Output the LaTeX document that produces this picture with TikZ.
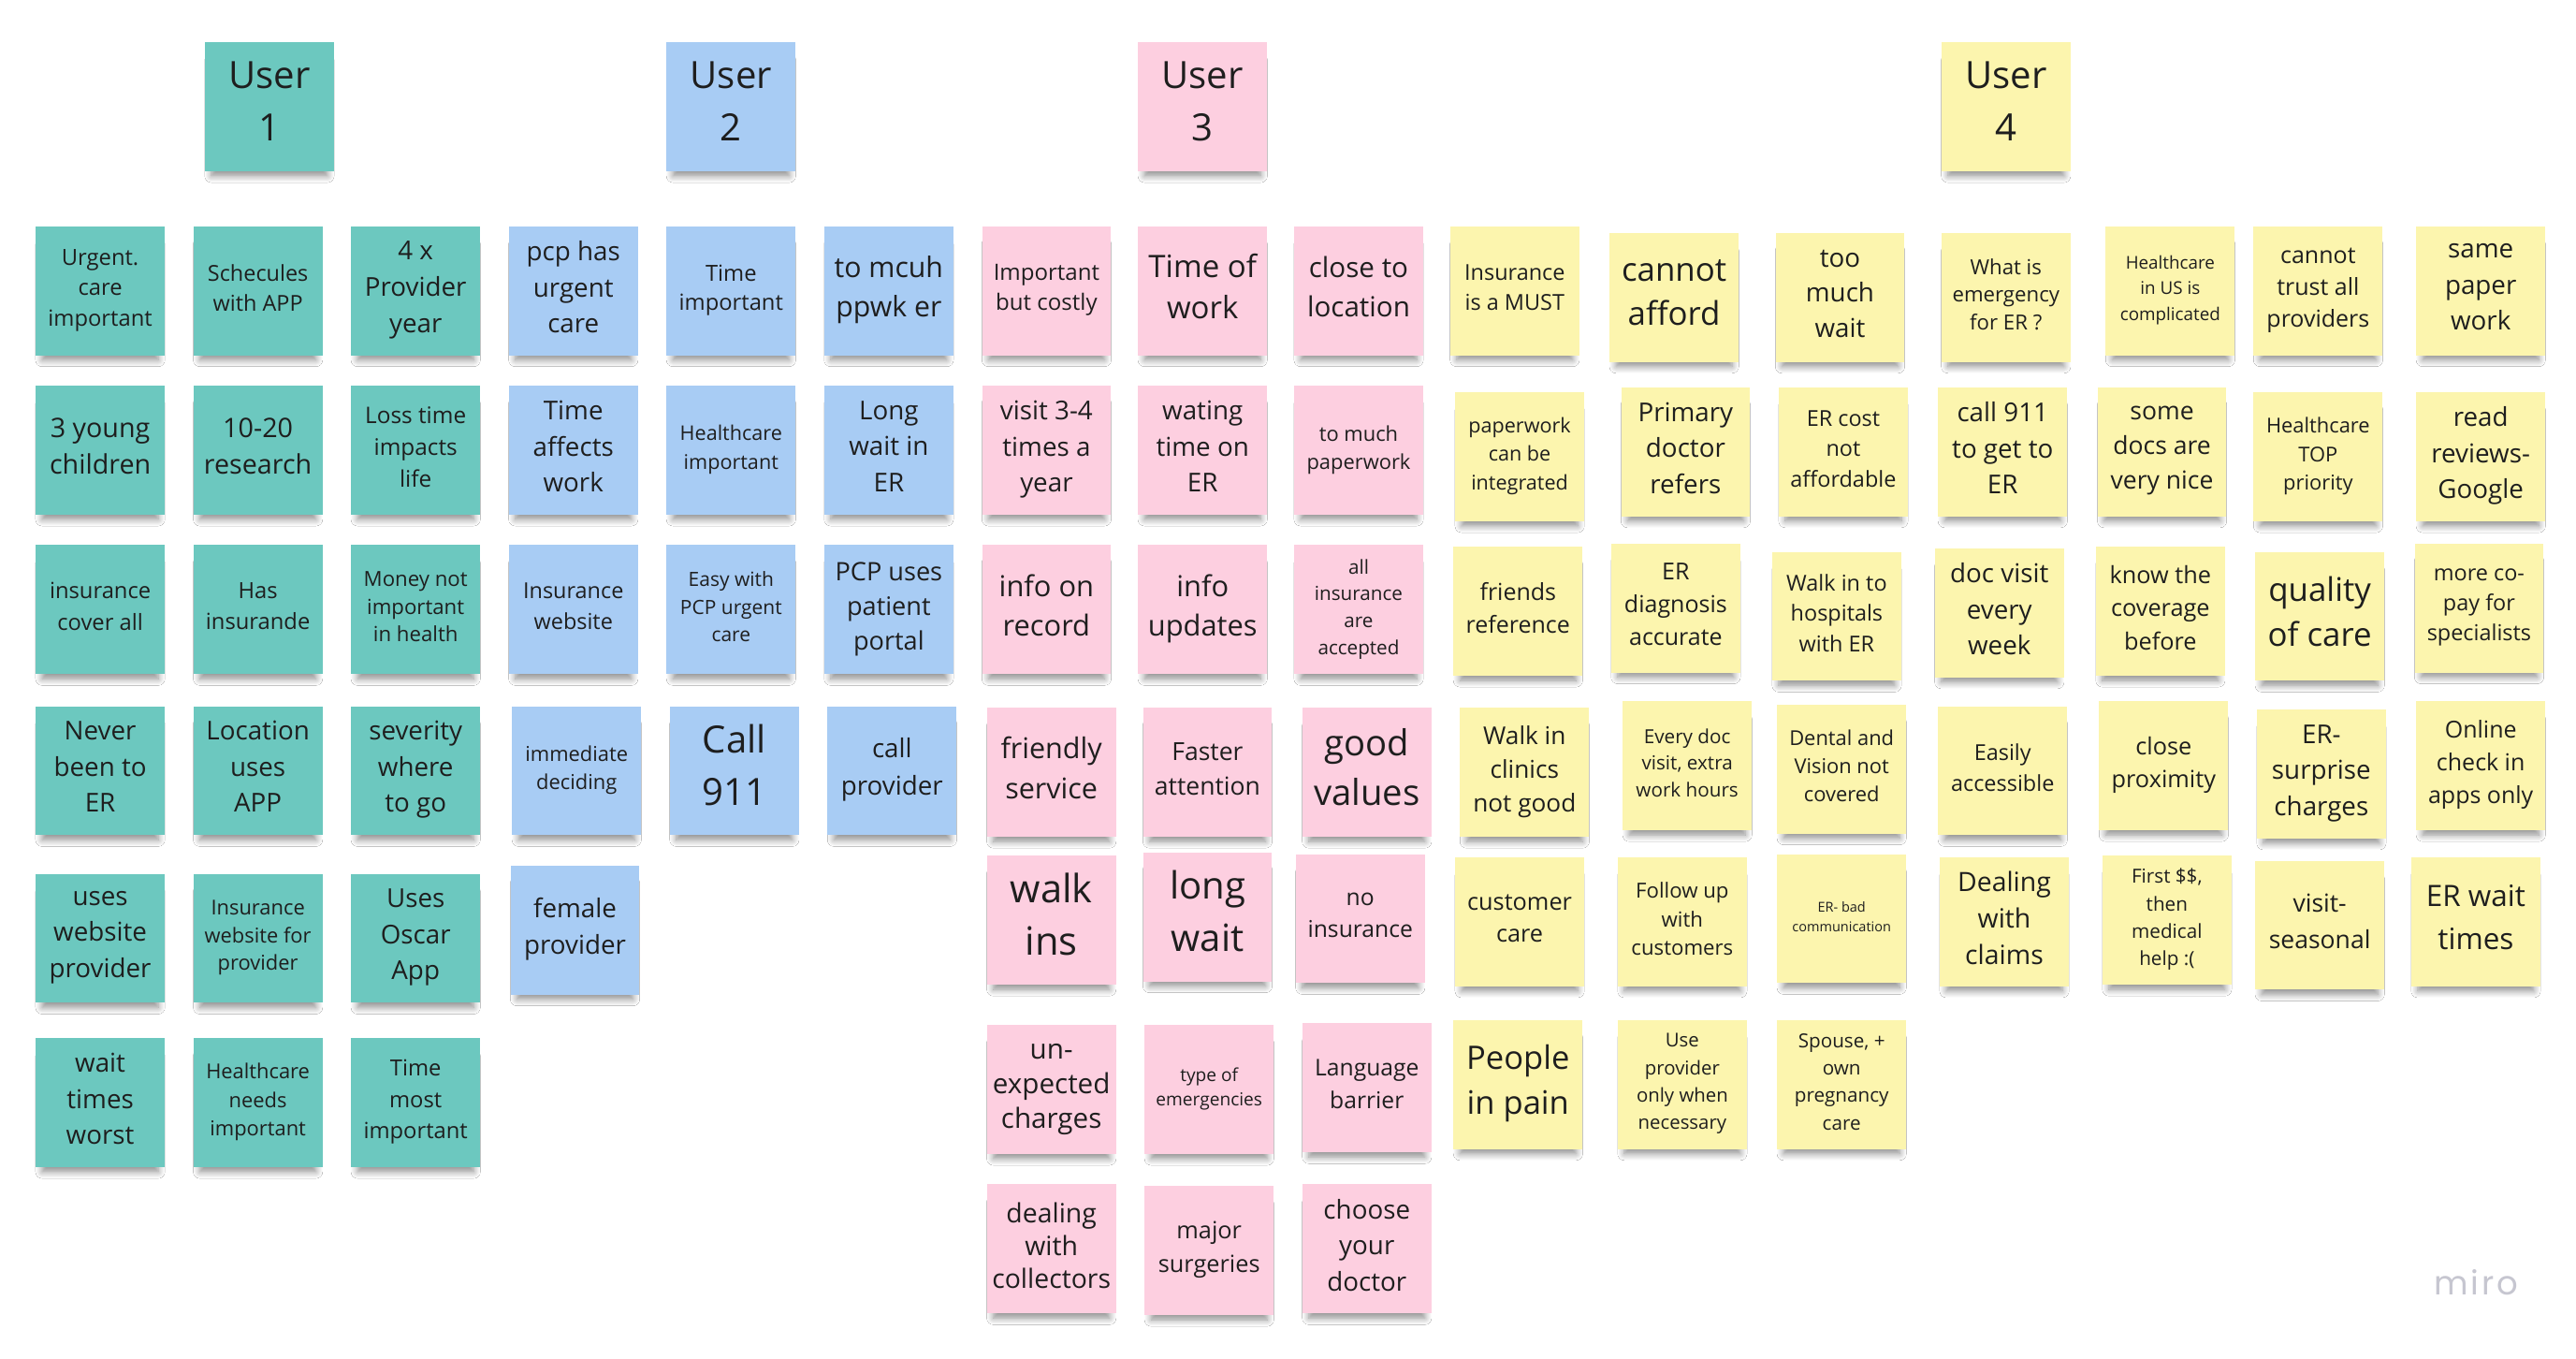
\documentclass[tikz,border=0pt]{standalone}
\usepackage{fontspec}
\setmainfont{Open Sans}
\newfontfamily\logofont[LetterSpace=8]{Poppins}
\usetikzlibrary{shadows.blur}
\definecolor{teal1}{HTML}{6CC8BF}
\definecolor{blue1}{HTML}{A8CCF4}
\definecolor{pink1}{HTML}{FDCFE0}
\definecolor{yel1}{HTML}{FCF5AE}
\definecolor{ink}{HTML}{1E1E1E}
\definecolor{logo}{HTML}{C6C6D0}
\newcommand\notestrut{\rule[-0.22\baselineskip]{0pt}{0.78\baselineskip}}
\tikzset{
  note/.style={rectangle, fill=#1, minimum width=1.57cm, minimum height=1.57cm,
    inner sep=0pt, align=center, text=ink,
    execute at begin node=\notestrut, execute at end node=\notestrut,
    blur shadow={shadow xshift=0pt, shadow yshift=-0.15cm, shadow scale=0.9,
      shadow blur radius=0.09cm, shadow opacity=45, shadow blur steps=8}},
  fs/.style 2 args={font=\fontsize{#1}{#2}\selectfont},
  tn/.style={note=teal1},
  bn/.style={note=blue1},
  pn/.style={note=pink1},
  yn/.style={note=yel1},
}
\begin{document}
\begin{tikzpicture}[x=0.02cm, y=-0.02cm]
\useasboundingbox[fill=white] (0,0) rectangle (1568,827);
% headers
\node[tn, fs={13}{18}] (u1) at (164,65) {User\\1};
\node[bn, fs={13}{18}] (u2) at (445,65) {User\\2};
\node[pn, fs={13}{18}] (u3) at (732,65) {User\\3};
\node[yn, fs={13}{18}] (u4) at (1221,65) {User\\4};
% teal
\node[tn, fs={7.7}{10.5}] (t11) at (61,177) {Urgent.\\care\\important};
\node[tn, fs={7.6}{10.3}] (t12) at (157,177) {Schecules\\with APP};
\node[tn, fs={9}{12.5}] (t13) at (253,177) {4 x\\Provider\\year};
\node[tn, fs={9.3}{12.5}] (t21) at (61,274) {3 young\\children};
\node[tn, fs={9.3}{12.5}] (t22) at (157,274) {10-20\\research};
\node[tn, fs={7.9}{11}] (t23) at (253,274) {Loss time\\impacts\\life};
\node[tn, fs={7.7}{10.8}] (t31) at (61,371) {insurance\\cover all};
\node[tn, fs={7.7}{10.8}] (t32) at (157,371) {Has\\insurande};
\node[tn, fs={7.2}{9.7}] (t33) at (253,371) {Money not\\important\\in health};
\node[tn, fs={9}{12.5}] (t41) at (61,469) {Never\\been to\\ER};
\node[tn, fs={9}{12.5}] (t42) at (157,469) {Location\\uses\\APP};
\node[tn, fs={9}{12.5}] (t43) at (253,469) {severity\\where\\to go};
\node[tn, fs={9}{12.5}] (t51) at (61,571) {uses\\website\\provider};
\node[tn, fs={7.1}{9.5}] (t52) at (157,571) {Insurance\\website for\\provider};
\node[tn, fs={9}{12.5}] (t53) at (253,571) {Uses\\Oscar\\App};
\node[tn, fs={9}{12.5}] (t61) at (61,671) {wait\\times\\worst};
\node[tn, fs={7.1}{10}] (t62) at (157,671) {Healthcare\\needs\\important};
\node[tn, fs={7.7}{10.8}] (t63) at (253,671) {Time\\most\\important};
% blue
\node[bn, fs={9}{12.5}] (b11) at (349,177) {pcp has\\urgent\\care};
\node[bn, fs={7.7}{10.3}] (b12) at (445,177) {Time\\important};
\node[bn, fs={9.8}{13.6}] (b13) at (541,177) {to mcuh\\ppwk er};
\node[bn, fs={9}{12.5}] (b21) at (349,274) {Time\\affects\\work};
\node[bn, fs={7}{10.2}] (b22) at (445,274) {Healthcare\\important};
\node[bn, fs={9}{12.5}] (b23) at (541,274) {Long\\wait in\\ER};
\node[bn, fs={7.6}{10.8}] (b31) at (349,371) {Insurance\\website};
\node[bn, fs={6.8}{9.6}] (b32) at (445,371) {Easy with\\PCP urgent\\care};
\node[bn, fs={8.8}{12}] (b33) at (541,371) {PCP uses\\patient\\portal};
\node[bn, fs={7.1}{9.7}] (b41) at (351,469) {immediate\\deciding};
\node[bn, fs={13}{18}] (b42) at (447,469) {Call\\911};
\node[bn, fs={9}{13}] (b43) at (543,469) {call\\provider};
\node[bn, fs={9}{12.5}] (b51) at (350,566) {female\\provider};
% pink
\node[pn, fs={7.8}{10.3}] (p11) at (637,177) {Important\\but costly};
\node[pn, fs={10.7}{14.2}] (p12) at (732,177) {Time of\\work};
\node[pn, fs={9.6}{13.6}] (p13) at (827,177) {close to\\location};
\node[pn, fs={9}{12.5}] (p21) at (637,274) {visit 3-4\\times a\\year};
\node[pn, fs={9}{12.5}] (p22) at (732,274) {wating\\time on\\ER};
\node[pn, fs={7.1}{9.7}] (p23) at (827,274) {to much\\paperwork};
\node[pn, fs={10}{13.6}] (p31) at (637,371) {info on\\record};
\node[pn, fs={10}{13.6}] (p32) at (732,371) {info\\updates};
\node[pn, fs={6.7}{9.3}] (p33) at (827,371) {all\\insurance\\are\\accepted};
\node[pn, fs={9.9}{14.2}] (p41) at (640,470) {friendly\\service};
\node[pn, fs={8.6}{12}] (p42) at (735,470) {Faster\\attention};
\node[pn, fs={12.4}{17}] (p43) at (832,470) {good\\values};
\node[pn, fs={13.5}{18.2}] (p51) at (640,560) {walk\\ins};
\node[pn, fs={13}{18.2}] (p52) at (735,558) {long\\wait};
\node[pn, fs={8}{10.8}] (p53) at (828,559) {no\\insurance};
\node[pn, fs={9.6}{12}] (p61) at (640,663) {un-\\expected\\charges};
\node[pn, fs={6.2}{8.5}] (p62) at (736,663) {type of\\emergencies};
\node[pn, fs={8}{11.4}] (p63) at (832,662) {Language\\barrier};
\node[pn, fs={9.2}{11.4}] (p71) at (640,760) {dealing\\with\\collectors};
\node[pn, fs={8.2}{11.4}] (p72) at (736,761) {major\\surgeries};
\node[pn, fs={9}{12.5}] (p73) at (832,760) {choose\\your\\doctor};
% yellow
\node[yn, fs={7.6}{10.2}] (y11) at (922,177) {Insurance\\is a MUST};
\node[yn, fs={11.3}{15.4}] (y12) at (1019,181) {cannot\\afford};
\node[yn, fs={9}{12.2}] (y13) at (1120,181) {too\\much\\wait};
\node[yn, fs={7.2}{9.7}] (y14) at (1221,181) {What is\\emergency\\for ER ?};
\node[yn, fs={6.1}{8.8}] (y15) at (1321,177) {Healthcare\\in US is\\complicated};
\node[yn, fs={8.1}{11}] (y16) at (1411,177) {cannot\\trust all\\providers};
\node[yn, fs={9}{12.5}] (y17) at (1510,177) {same\\paper\\work};
\node[yn, fs={7}{10}] (y21) at (925,278) {paperwork\\can be\\integrated};
\node[yn, fs={9}{12.5}] (y22) at (1026,275) {Primary\\doctor\\refers};
\node[yn, fs={7.6}{10.5}] (y23) at (1122,275) {ER cost\\not\\affordable};
\node[yn, fs={9}{12.5}] (y24) at (1219,275) {call 911\\to get to\\ER};
\node[yn, fs={8.6}{12}] (y25) at (1316,275) {some\\docs are\\very nice};
\node[yn, fs={7.1}{10}] (y26) at (1411,278) {Healthcare\\TOP\\priority};
\node[yn, fs={9}{12.5}] (y27) at (1510,278) {read\\reviews-\\Google};
\node[yn, fs={8.1}{11.4}] (y31) at (924,372) {friends\\reference};
\node[yn, fs={8.1}{11.4}] (y32) at (1020,370) {ER\\diagnosis\\accurate};
\node[yn, fs={7.6}{10.5}] (y33) at (1118,375) {Walk in to\\hospitals\\with ER};
\node[yn, fs={9}{12.5}] (y34) at (1217,373) {doc visit\\every\\week};
\node[yn, fs={8.2}{11.4}] (y35) at (1315,372) {know the\\coverage\\before};
\node[yn, fs={11.3}{15.4}] (y36) at (1412,375) {quality\\of care};
\node[yn, fs={7.6}{10.5}] (y37) at (1509,370) {more co-\\pay for\\specialists};
\node[yn, fs={8.5}{11.7}] (y41) at (928,470) {Walk in\\clinics\\not good};
\node[yn, fs={6.7}{9.1}] (y42) at (1027,466) {Every doc\\visit, extra\\work hours};
\node[yn, fs={7.1}{9.7}] (y43) at (1121,468) {Dental and\\Vision not\\covered};
\node[yn, fs={7.6}{10.8}] (y44) at (1219,469) {Easily\\accessible};
\node[yn, fs={8.2}{11.4}] (y45) at (1317,466) {close\\proximity};
\node[yn, fs={9}{12.5}] (y46) at (1413,471) {ER-\\surprise\\charges};
\node[yn, fs={8.1}{11.4}] (y47) at (1510,466) {Online\\check in\\apps only};
\node[yn, fs={8.2}{10.8}] (y51) at (925,561) {customer\\care};
\node[yn, fs={7.2}{10}] (y52) at (1024,561) {Follow up\\with\\customers};
\node[yn, fs={4.7}{6.8}] (y53) at (1121,559) {ER- bad\\communication};
\node[yn, fs={9.2}{12.5}] (y54) at (1220,561) {Dealing\\with\\claims};
\node[yn, fs={6.7}{9.5}] (y55) at (1319,560) {First \$\$,\\then\\medical\\help :(};
\node[yn, fs={8.6}{12.5}] (y56) at (1412,563) {visit-\\seasonal};
\node[yn, fs={10.2}{14.8}] (y57) at (1507,561) {ER wait\\times};
\node[yn, fs={11.2}{15.4}] (y61) at (924,660) {People\\in pain};
\node[yn, fs={6.6}{9.5}] (y62) at (1024,660) {Use\\provider\\only when\\necessary};
\node[yn, fs={6.7}{9.5}] (y63) at (1121,660) {Spouse, +\\own\\pregnancy\\care};
% logo
\node[font=\logofont\fontsize{11.5}{11.5}\selectfont, text=logo, anchor=base, inner sep=0pt] (miro) at (1507,788) {miro};
\end{tikzpicture}
\end{document}
